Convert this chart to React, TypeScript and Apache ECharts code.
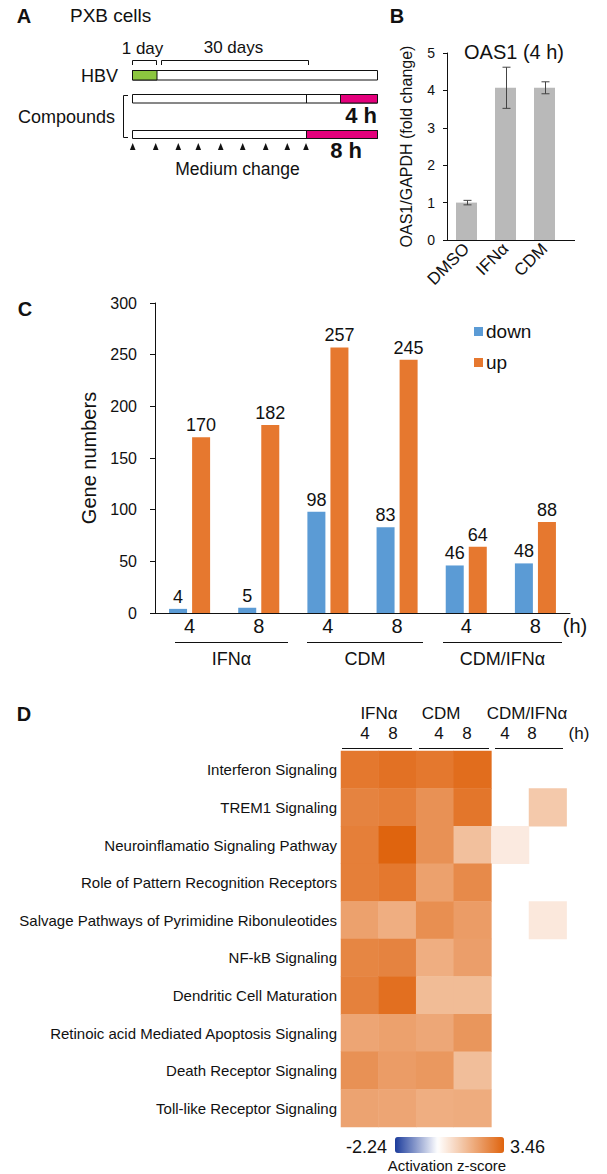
import React, { useEffect, useRef } from 'react';
import * as echarts from 'echarts';

const FONT = "'Liberation Sans', Arial, Helvetica, sans-serif";

// ---------- Panel B : OAS1 qPCR ----------
const oasCategories = ['DMSO', 'IFNα', 'CDM'];
const oasFold = [1.0, 4.07, 4.07];
const oasErr = [0.06, 0.55, 0.16];

// ---------- Panel C : gene numbers ----------
const treatmentGroups = ['IFNα', 'CDM', 'CDM/IFNα'];
const timePoints = ['4', '8'];
const downGenes = [4, 5, 98, 83, 46, 48];
const upGenes = [170, 182, 257, 245, 64, 88];

// ---------- Panel D : pathway activation z-scores ----------
const pathways = [
  'Interferon Signaling',
  'TREM1 Signaling',
  'Neuroinflamatio Signaling Pathway',
  'Role of Pattern Recognition Receptors',
  'Salvage Pathways of Pyrimidine Ribonuleotides',
  'NF-kB Signaling',
  'Dendritic Cell Maturation',
  'Retinoic acid Mediated Apoptosis Signaling',
  'Death Receptor Signaling',
  'Toll-like Receptor Signaling',
];
// columns: IFNα 4, IFNα 8, CDM 4, CDM 8, CDM/IFNα 4, CDM/IFNα 8
const zScores: (number | null)[][] = [
  [3.0, 3.15, 3.0, 3.25, null, null],
  [2.75, 2.85, 2.45, 3.05, null, 1.2],
  [2.85, 3.46, 2.45, 1.4, 0.45, null],
  [2.85, 3.0, 2.1, 2.6, null, null],
  [2.1, 1.8, 2.5, 2.2, null, 0.5],
  [2.7, 2.75, 1.8, 2.15, null, null],
  [2.8, 3.2, 1.5, 1.5, null, null],
  [2.0, 2.1, 1.95, 2.35, null, null],
  [2.45, 2.2, 2.3, 1.45, null, null],
  [2.05, 2.0, 1.8, 1.85, null, null],
];
const zMin = -2.24;
const zMax = 3.46;

const groupTimeCategories = treatmentGroups.flatMap((g) => timePoints.map((t) => g + '|' + t));

function lerpColor(a: number[], b: number[], t: number) {
  const c = a.map((v, i) => Math.round(v + (b[i] - v) * t));
  return `rgb(${c[0]},${c[1]},${c[2]})`;
}
function gradientStops() {
  const blue = [28, 60, 156];
  const white = [255, 255, 255];
  const orange = [223, 100, 14];
  const n = 57;
  const out: string[] = [];
  for (let i = 0; i <= n; i++) {
    const v = zMin + ((zMax - zMin) * i) / n;
    out.push(v < 0 ? lerpColor(blue, white, (v - zMin) / -zMin) : lerpColor(white, orange, v / zMax));
  }
  return out;
}

const txt = (text: string, x: number, y: number, size: number, extra: any = {}) => ({
  type: 'text',
  x,
  y,
  silent: true,
  style: {
    text,
    fontSize: size,
    fontFamily: FONT,
    fontWeight: extra.bold ? 'bold' : 'normal',
    fill: '#111',
    align: extra.align || 'center',
    textAlign: extra.align || 'center',
    verticalAlign: 'middle',
    textVerticalAlign: 'middle',
  },
});
const line = (x1: number, y1: number, x2: number, y2: number, w = 1) => ({
  type: 'line',
  silent: true,
  shape: { x1, y1, x2, y2 },
  style: { stroke: '#111', lineWidth: w },
});
const rect = (x: number, y: number, width: number, height: number, fill: string) => ({
  type: 'rect',
  silent: true,
  shape: { x, y, width, height },
  style: { fill, stroke: '#111', lineWidth: 1 },
});
const polyline = (points: number[][]) => ({
  type: 'polyline',
  silent: true,
  shape: { points },
  style: { stroke: '#111', lineWidth: 1, fill: null },
});

function buildGraphics() {
  const g: any[] = [];
  // Panel A schematic
  g.push(txt('A', 24, 16, 20, { bold: true }));
  g.push(txt('PXB cells', 70, 15, 19, { align: 'left' }));
  g.push(txt('1 day', 142.5, 48, 17));
  g.push(txt('30 days', 233.5, 47, 17));
  g.push(polyline([[132.5, 65], [132.5, 60.5], [156.5, 60.5], [156.5, 65]]));
  g.push(polyline([[161.5, 65], [161.5, 60.5], [308.5, 60.5], [308.5, 65]]));
  g.push(txt('HBV', 118, 76, 18, { align: 'right' }));
  g.push(rect(132.5, 70.5, 245, 9.5, '#fff'));
  g.push(rect(132.5, 70.5, 24.5, 9.5, '#8cc63f'));
  g.push(txt('Compounds', 18, 117, 18, { align: 'left' }));
  g.push(polyline([[128, 95.5], [123.5, 95.5], [123.5, 137.5], [128, 137.5]]));
  g.push(rect(132.5, 94.5, 245, 8.5, '#fff'));
  g.push(rect(340.5, 94.5, 37, 8.5, '#e4007c'));
  g.push(line(306.5, 94.5, 306.5, 103));
  g.push(txt('4 h', 377, 115, 22, { bold: true, align: 'right' }));
  g.push(rect(132.5, 130.5, 245, 8, '#fff'));
  g.push(rect(306.5, 130.5, 71, 8, '#e4007c'));
  [132.7, 155.7, 178.3, 198.3, 220.7, 242.7, 265.7, 287.3, 306].forEach((x) => {
    g.push({
      type: 'polygon',
      silent: true,
      shape: { points: [[x, 143], [x - 2.8, 150], [x + 2.8, 150]] },
      style: { fill: '#111' },
    });
  });
  g.push(txt('8 h', 362, 150, 22, { bold: true, align: 'right' }));
  g.push(txt('Medium change', 237.5, 169, 17.5));

  // Panel B
  g.push(txt('B', 397, 16, 20, { bold: true }));
  g.push(txt('OAS1 (4 h)', 514, 52, 20));
  g.push(line(564, 240.5, 575, 240.5));

  // Panel C
  g.push(txt('C', 25, 309, 20, { bold: true }));
  g.push(txt('(h)', 575, 626, 20));
  const cLines = [[175, 288], [307, 423], [443, 562]];
  const cCenters = [231.5, 365, 502.5];
  treatmentGroups.forEach((name, i) => {
    g.push(line(cLines[i][0], 642.5, cLines[i][1], 642.5));
    g.push(txt(name, cCenters[i], 659, 18));
  });

  // Panel D header
  g.push(txt('D', 24, 714, 20, { bold: true }));
  const dCenters = [379, 441, 527];
  const dLines = [[342, 412], [419, 489], [495, 563]];
  const dNums = [[365, 393], [439, 467], [505, 532]];
  treatmentGroups.forEach((name, i) => {
    g.push(txt(name, dCenters[i], 713, 17));
    g.push(line(dLines[i][0], 748.5, dLines[i][1], 748.5));
    timePoints.forEach((t, j) => g.push(txt(t, dNums[i][j], 733, 17)));
  });
  g.push(txt('(h)', 579, 733, 17));
  // colour scale labels
  g.push(txt(String(zMin), 387, 1147, 18, { align: 'right' }));
  g.push(txt(String(zMax), 510, 1147, 18, { align: 'left' }));
  g.push(txt('Activation z-score', 447, 1165, 15));
  return g;
}

export default function App() {
  const ref = useRef<HTMLDivElement>(null);
  useEffect(() => {
    document.body.style.margin = '0';
    if (!ref.current) return;
    const chart = echarts.init(ref.current, null, { renderer: 'svg' });
    const heatData: any[] = [];
    zScores.forEach((row, r) =>
      row.forEach((v, c) => {
        if (v !== null) heatData.push([c, r, v]);
      })
    );
    const axisLine = { show: true, lineStyle: { color: '#111', width: 1 } };
    const option: any = {
      animation: false,
      textStyle: { fontFamily: FONT },
      grid: [
        { left: 447, top: 53, width: 117, height: 187 },
        { left: 155, top: 303, width: 415, height: 310 },
        { left: 341, top: 751, width: 225.6, height: 376 },
      ],
      legend: {
        data: ['down', 'up'],
        orient: 'vertical',
        left: 474,
        top: 322,
        itemWidth: 9,
        itemHeight: 9,
        itemGap: 12,
        icon: 'rect',
        padding: 0,
        textStyle: { fontSize: 19, lineHeight: 18, color: '#111', fontFamily: FONT, padding: [0, 0, 0, -2] },
      },
      xAxis: [
        {
          type: 'category',
          gridIndex: 0,
          data: oasCategories,
          axisLine,
          axisTick: { show: false },
          axisLabel: { rotate: 45, fontSize: 17, color: '#111', margin: 6, fontFamily: FONT },
        },
        {
          type: 'category',
          gridIndex: 1,
          data: groupTimeCategories,
          axisLine,
          axisTick: { show: false },
          axisLabel: {
            fontSize: 20,
            color: '#111',
            margin: 3,
            fontFamily: FONT,
            formatter: (v: string) => v.split('|')[1],
          },
        },
        {
          type: 'category',
          gridIndex: 2,
          data: groupTimeCategories,
          position: 'top',
          axisLine: { show: false },
          axisTick: { show: false },
          axisLabel: { show: false },
          splitLine: { show: false },
        },
      ],
      yAxis: [
        {
          type: 'value',
          gridIndex: 0,
          min: 0,
          max: 5,
          interval: 1,
          axisLine,
          axisTick: { show: true, length: 4, lineStyle: { color: '#111' } },
          splitLine: { show: false },
          axisLabel: { fontSize: 14, color: '#111', margin: 12, fontFamily: FONT },
          name: 'OAS1/GAPDH (fold change)',
          nameLocation: 'middle',
          nameGap: 33,
          nameRotate: 90,
          nameTextStyle: { fontSize: 16, color: '#111', fontFamily: FONT },
        },
        {
          type: 'value',
          gridIndex: 1,
          min: 0,
          max: 300,
          interval: 50,
          axisLine,
          axisTick: { show: true, length: 5, lineStyle: { color: '#111' } },
          splitLine: { show: false },
          axisLabel: { fontSize: 16, color: '#111', margin: 18, fontFamily: FONT },
          name: 'Gene numbers',
          nameLocation: 'middle',
          nameGap: 51,
          nameRotate: 90,
          nameTextStyle: { fontSize: 20, color: '#111', fontFamily: FONT },
        },
        {
          type: 'category',
          gridIndex: 2,
          data: pathways,
          inverse: true,
          axisLine: { show: false },
          axisTick: { show: false },
          splitLine: { show: false },
          axisLabel: { fontSize: 15, color: '#111', margin: 4, fontFamily: FONT },
        },
      ],
      visualMap: {
        type: 'continuous',
        min: zMin,
        max: zMax,
        seriesIndex: 4,
        orient: 'horizontal',
        left: 395,
        top: 1137,
        padding: 0,
        itemWidth: 16,
        itemHeight: 109,
        calculable: false,
        hoverLink: false,
        inRange: { color: gradientStops() },
      },
      series: [
        {
          type: 'bar',
          name: 'OAS1',
          xAxisIndex: 0,
          yAxisIndex: 0,
          data: oasFold,
          barWidth: 21,
          itemStyle: { color: '#b9b9b9' },
          silent: true,
        },
        {
          type: 'custom',
          name: 'error',
          xAxisIndex: 0,
          yAxisIndex: 0,
          z: 5,
          silent: true,
          data: oasFold.map((v, i) => [i, v - oasErr[i], v + oasErr[i]]),
          encode: { x: 0, y: [1, 2] },
          renderItem: (params: any, api: any) => {
            const x = api.value(0);
            const lo = api.coord([x, api.value(1)]);
            const hi = api.coord([x, api.value(2)]);
            const cx = Math.round(hi[0]) + 0.5;
            const st = { stroke: '#444', lineWidth: 1 };
            return {
              type: 'group',
              children: [
                { type: 'line', shape: { x1: cx, y1: hi[1], x2: cx, y2: lo[1] }, style: st },
                { type: 'line', shape: { x1: cx - 4, y1: hi[1], x2: cx + 4, y2: hi[1] }, style: st },
                { type: 'line', shape: { x1: cx - 4, y1: lo[1], x2: cx + 4, y2: lo[1] }, style: st },
              ],
            };
          },
        },
        {
          type: 'bar',
          name: 'down',
          xAxisIndex: 1,
          yAxisIndex: 1,
          data: downGenes,
          barWidth: 18,
          barGap: '28%',
          itemStyle: { color: '#5b9bd5' },
          label: { show: true, position: 'top', distance: 3, fontSize: 18, color: '#111', fontFamily: FONT },
          silent: true,
        },
        {
          type: 'bar',
          name: 'up',
          xAxisIndex: 1,
          yAxisIndex: 1,
          data: upGenes,
          barWidth: 18,
          barGap: '28%',
          itemStyle: { color: '#e6782f' },
          label: { show: true, position: 'top', distance: 3, fontSize: 18, color: '#111', fontFamily: FONT },
          silent: true,
        },
        {
          type: 'heatmap',
          name: 'z-score',
          xAxisIndex: 2,
          yAxisIndex: 2,
          data: heatData,
          silent: true,
          itemStyle: { borderWidth: 0 },
          emphasis: { disabled: true },
        },
      ],
      graphic: buildGraphics(),
    };
    chart.setOption(option);
    return () => chart.dispose();
  }, []);
  return <div ref={ref} style={{ width: 607, height: 1174 }} />;
}
